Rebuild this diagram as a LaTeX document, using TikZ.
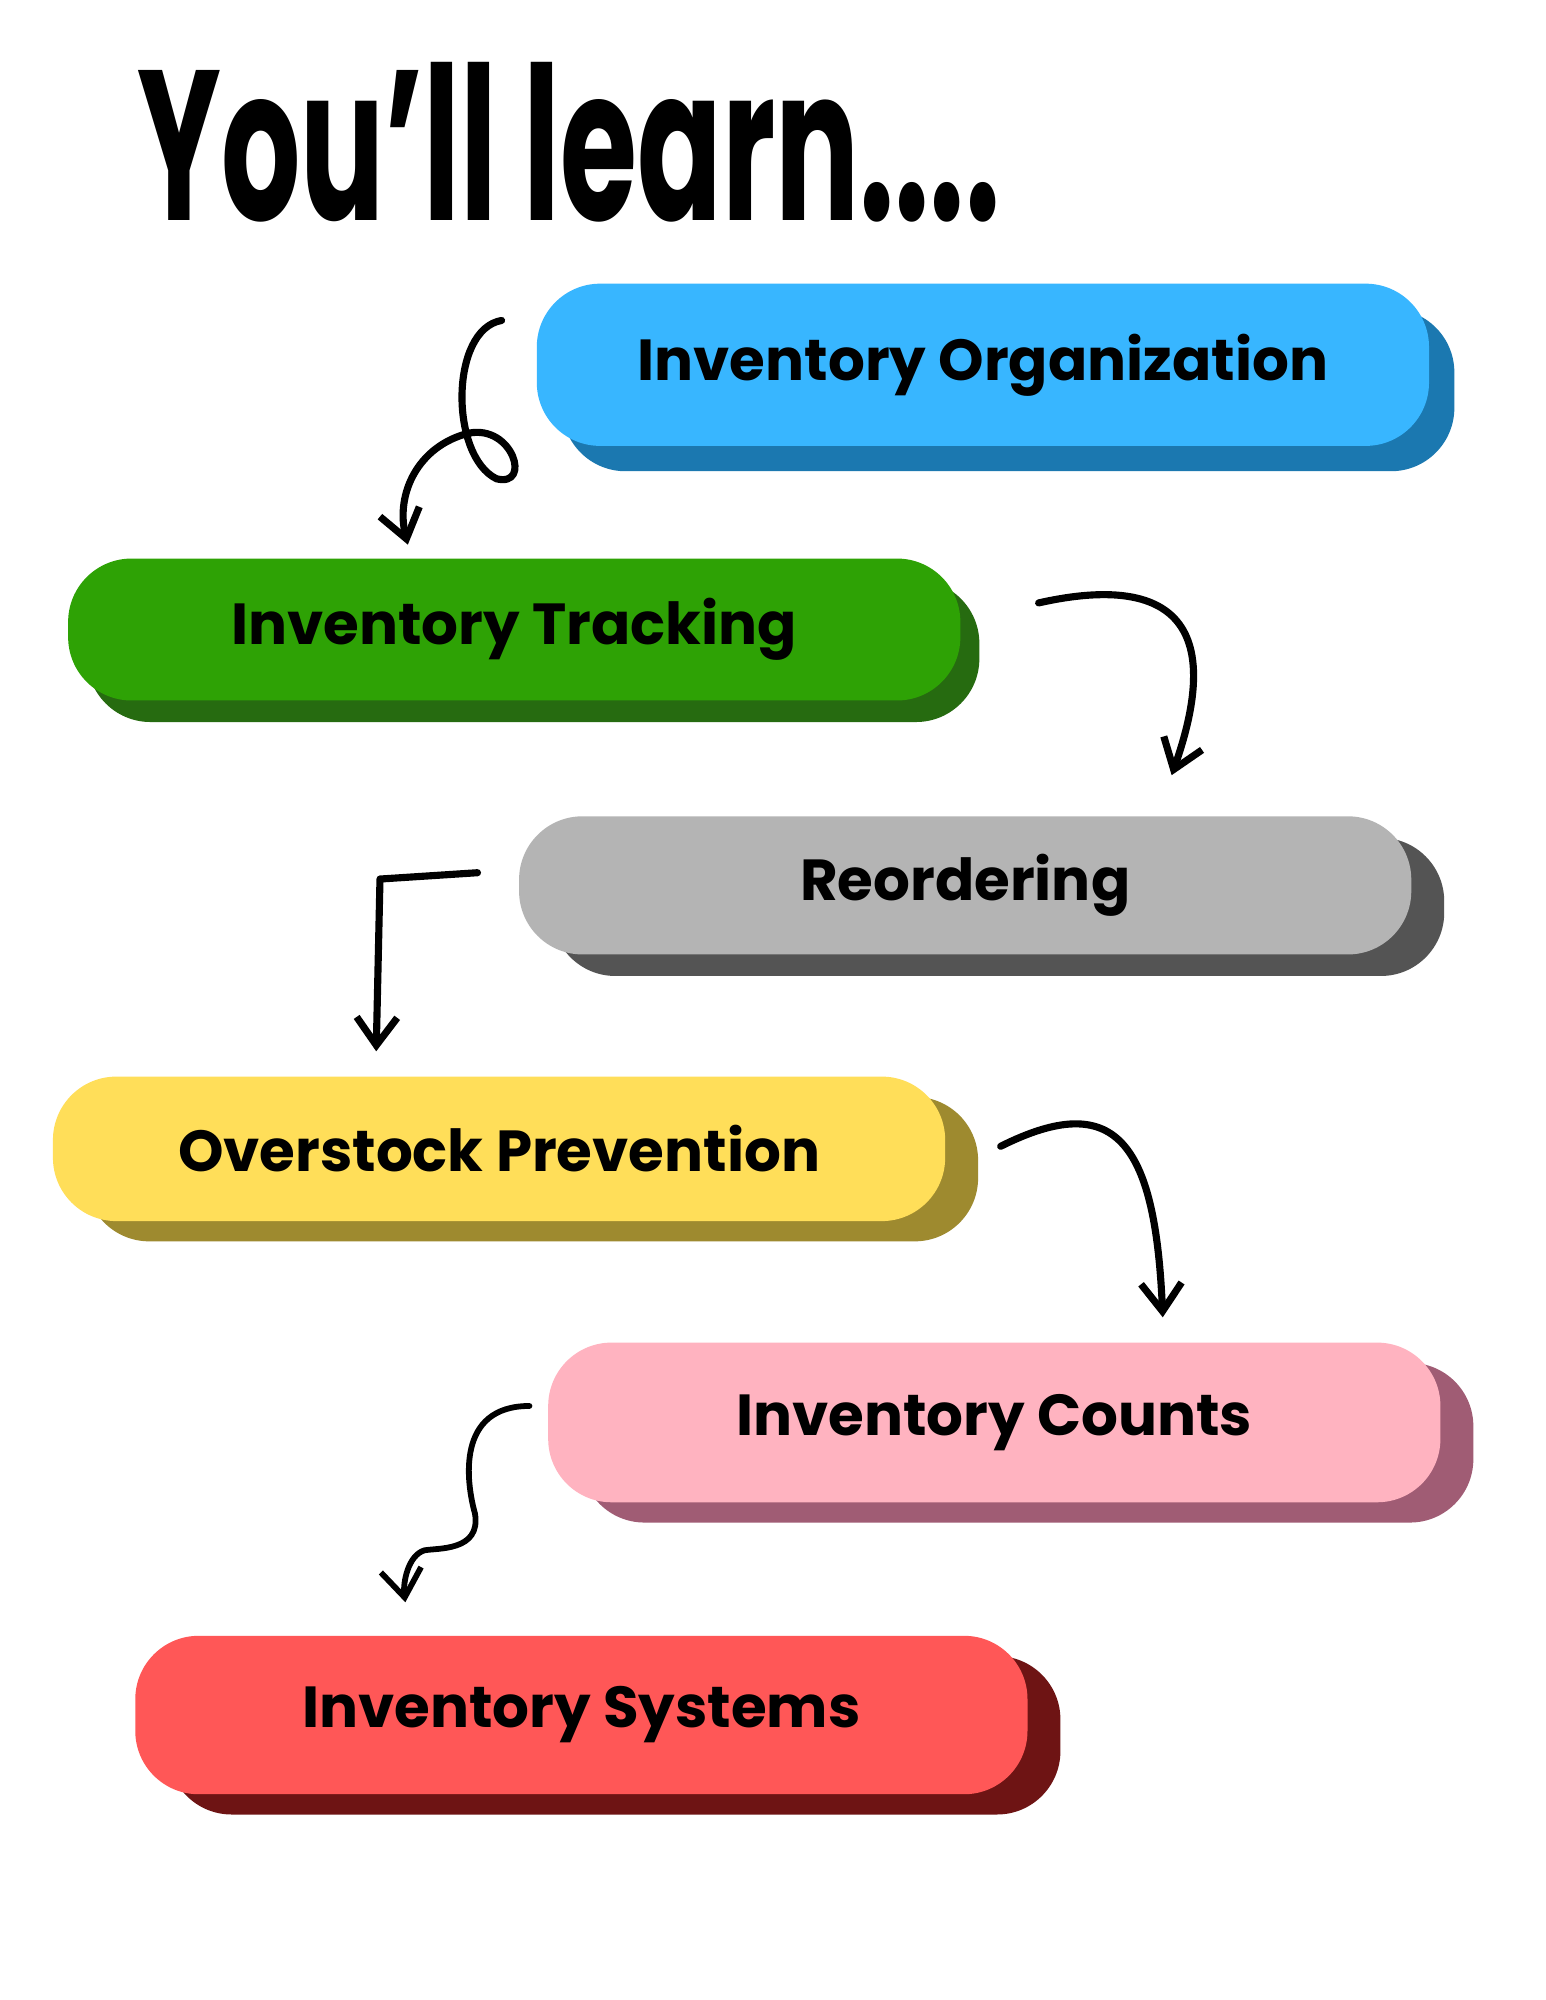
\documentclass[tikz,border=0pt]{standalone}
\usepackage{fontspec}
\setmainfont{Poppins}
\usetikzlibrary{arrows.meta}
\definecolor{learn_blue}{RGB}{56,182,255}
\definecolor{learn_blueS}{RGB}{27,120,176}
\definecolor{learn_green}{RGB}{46,162,5}
\definecolor{learn_greenS}{RGB}{38,107,16}
\definecolor{learn_gray}{RGB}{180,180,180}
\definecolor{learn_grayS}{RGB}{84,84,84}
\definecolor{learn_yellow}{RGB}{255,222,89}
\definecolor{learn_yellowS}{RGB}{158,138,47}
\definecolor{learn_pink}{RGB}{255,179,192}
\definecolor{learn_pinkS}{RGB}{160,92,116}
\definecolor{learn_red}{RGB}{255,87,87}
\definecolor{learn_redS}{RGB}{110,20,20}
\tikzset{
  learnbox/.style={shape=rectangle,rounded corners=0.5cm,minimum width=7.04cm,inner sep=0pt,font=\fontsize{13}{13}\selectfont\bfseries},
  learnarrow/.style={line width=1.6pt,-{Straight Barb[length=2.2mm,width=3.2mm]},line cap=round,line join=round}
}
\begin{document}
\begin{tikzpicture}[x=0.01cm,y=-0.01cm]
    \useasboundingbox[fill=white] (0,0) rectangle (1220,1579);
    \node[font=\fontsize{40}{40}\selectfont\bfseries,anchor=west,xscale=0.7,yscale=1.2,inner sep=0pt] (title) at (108,112) {You’ll learn....};
    % shadows
    \node[learnbox,fill=learn_blueS,minimum height=1.28cm]   at (796,308)  {};
    \node[learnbox,fill=learn_greenS,minimum height=1.12cm]  at (421,514)  {};
    \node[learnbox,fill=learn_grayS,minimum height=1.09cm]   at (788,716)  {};
    \node[learnbox,fill=learn_yellowS,minimum height=1.14cm] at (420,923)  {};
    \node[learnbox,fill=learn_pinkS,minimum height=1.26cm]   at (811,1139) {};
    \node[learnbox,fill=learn_redS,minimum height=1.25cm]    at (485,1370) {};
    % boxes
    \node[learnbox,fill=learn_blue,minimum height=1.28cm]   (org)  at (776,288)  {Inventory Organization};
    \node[learnbox,fill=learn_green,minimum height=1.12cm]  (trk)  at (406,497)  {Inventory Tracking};
    \node[learnbox,fill=learn_gray,minimum height=1.09cm]   (reo)  at (762,699)  {Reordering};
    \node[learnbox,fill=learn_yellow,minimum height=1.14cm] (ovs)  at (394,907)  {Overstock Prevention};
    \node[learnbox,fill=learn_pink,minimum height=1.26cm]   (cnt)  at (785,1123) {Inventory Counts};
    \node[learnbox,fill=learn_red,minimum height=1.25cm]    (sys)  at (459,1354) {Inventory Systems};
    % arrows
    \coordinate (a1) at (396,253); \coordinate (b1) at (322,430);
    \coordinate (a2) at (820,476); \coordinate (b2) at (925,612);
    \coordinate (a3) at (377,689); \coordinate (b3) at (297,830);
    \coordinate (a4) at (790,905); \coordinate (b4) at (918,1040);
    \coordinate (a5) at (418,1110); \coordinate (b5) at (320,1265);
    \draw[learnarrow] (a1) .. controls (355,260) and (355,360) .. (392,378) .. controls (420,385) and (405,335) .. (370,342) .. controls (330,352) and (312,390) .. (b1);
    \draw[learnarrow] (a2) .. controls (900,458) and (975,470) .. (b2);
    \draw[learnarrow] (a3) -- (300,694) -- (b3);
    \draw[learnarrow] (a4) .. controls (880,860) and (912,900) .. (b4);
    \draw[learnarrow,line width=1.3pt] (a5) .. controls (360,1110) and (368,1170) .. (375,1195) .. controls (380,1225) and (345,1222) .. (335,1224) .. controls (322,1228) and (318,1250) .. (b5);
\end{tikzpicture}
\end{document}
